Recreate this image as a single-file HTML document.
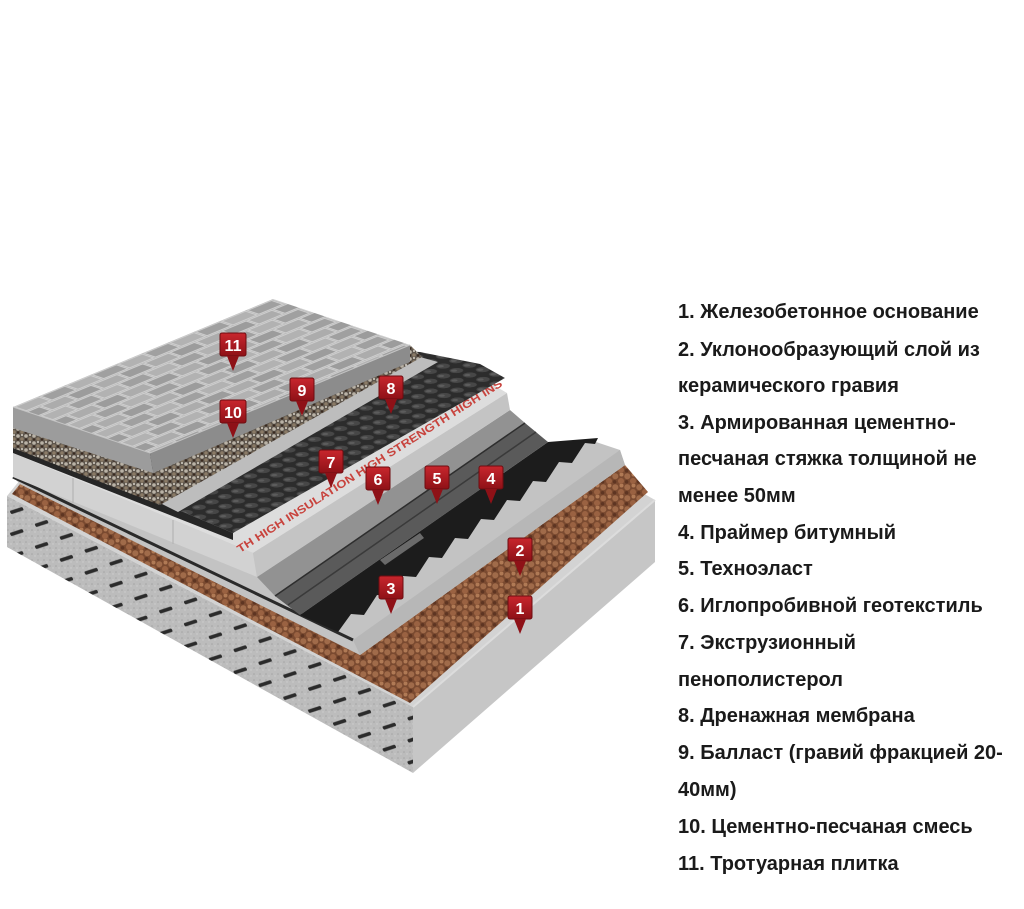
<!DOCTYPE html>
<html><head><meta charset="utf-8">
<style>
html,body{margin:0;padding:0;background:#fff;}
#wrap{position:relative;width:1024px;height:909px;overflow:hidden;background:#fff;}
svg{position:absolute;left:0;top:0;}
.t{position:absolute;left:678px;font-family:"Liberation Sans","DejaVu Sans",sans-serif;font-weight:bold;font-size:20px;color:#1a1a1a;white-space:nowrap;line-height:22px;}
</style></head><body><div id="wrap">
<svg width="1024" height="909" viewBox="0 0 1024 909">
<defs>
 <pattern id="rebar" width="28" height="22" patternUnits="userSpaceOnUse" patternTransform="matrix(0.887,0.461,0,1,7,496)">
  <line x1="5" y1="14" x2="17" y2="5" stroke="#2b2b2b" stroke-width="3" stroke-linecap="round"/>
 </pattern>
 <pattern id="conc" width="6" height="6" patternUnits="userSpaceOnUse">
  <rect width="6" height="6" fill="#bcbcbc"/><circle cx="2" cy="2" r="0.8" fill="#a5a5a5"/><circle cx="5" cy="4" r="0.7" fill="#cfcfcf"/>
 </pattern>
 <pattern id="grav" width="12" height="11" patternUnits="userSpaceOnUse">
  <rect width="12" height="11" fill="#7a4a30"/>
  <circle cx="3.3" cy="3.3" r="3" fill="#a06b4a"/><circle cx="9" cy="8" r="3" fill="#9a6242"/><circle cx="9.5" cy="1.5" r="2" fill="#b07a55"/><circle cx="2.6" cy="8.8" r="1.8" fill="#5e3522"/>
 </pattern>
 <pattern id="ball" width="8" height="7" patternUnits="userSpaceOnUse">
  <rect width="8" height="7" fill="#5d554c"/>
  <circle cx="2" cy="2" r="1.8" fill="#b9b2a6"/><circle cx="6" cy="5" r="1.8" fill="#8a7a66"/><circle cx="6" cy="1" r="1" fill="#d8d2c8"/><circle cx="2" cy="5.5" r="1.2" fill="#3a2a20"/>
 </pattern>
 <pattern id="dimp" width="14" height="14" patternUnits="userSpaceOnUse" patternTransform="matrix(0.923,-0.383,0.948,0.318,13,440)">
  <rect width="14" height="14" fill="#2c2c2c"/><circle cx="7" cy="7" r="5.2" fill="#474747"/><circle cx="5.8" cy="5.8" r="2.3" fill="#5c5c5c"/>
 </pattern>
 <pattern id="brick" width="56" height="28" patternUnits="userSpaceOnUse" patternTransform="matrix(0.923,-0.383,0.948,0.318,13,407)">
  <rect width="56" height="28" fill="#a9a9a9"/>
  <rect x="1" y="1" width="26" height="12" fill="#b2b2b2" stroke="#d0d0d0" stroke-width="1.5"/>
  <rect x="29" y="1" width="26" height="12" fill="#a0a0a0" stroke="#d0d0d0" stroke-width="1.5"/>
  <rect x="15" y="15" width="26" height="12" fill="#acacac" stroke="#d0d0d0" stroke-width="1.5"/>
  <rect x="-13" y="15" width="26" height="12" fill="#9c9c9c" stroke="#d0d0d0" stroke-width="1.5"/>
  <rect x="43" y="15" width="26" height="12" fill="#9c9c9c" stroke="#d0d0d0" stroke-width="1.5"/>
 </pattern>
 <linearGradient id="mk" x1="0" y1="0" x2="0" y2="1">
  <stop offset="0" stop-color="#c8262d"/><stop offset="1" stop-color="#8e1117"/>
 </linearGradient>
</defs>

<!-- slab -->
<polygon points="7,496 413,707 655,500 620,480 20,480" fill="#d3d3d3"/>
<polygon points="7,496 413,707 413,773 7,547" fill="url(#conc)"/>
<polygon points="7,496 413,707 413,773 7,547" fill="url(#rebar)"/>
<polygon points="413,707 655,500 655,562 413,773" fill="#c6c6c6"/>
<polyline points="413,707 655,500" fill="none" stroke="#dcdcdc" stroke-width="2"/>

<!-- gravel -->
<polygon points="20,484 360,655 625,465 648,492 410,703 12,494" fill="url(#grav)"/>

<!-- screed -->
<polygon points="13,460 300,560 590,440 620,450 625,465 360,655 20,484 13,477" fill="#c3c3c3"/>
<polygon points="353,640 620,450 625,465 360,655" fill="#b7b7b7"/>
<polyline points="13,477 353,640" fill="none" stroke="#2a2a2a" stroke-width="3"/>

<!-- primer black -->
<polygon points="300,615 548,442 598,438 595,444 585,443 572,463 559,462 546,482 533,481 520,501 507,500 494,520 481,519 468,539 455,538 442,558 429,557 416,577 403,576 390,596 377,595 364,615 351,614 338,632" fill="#1c1c1c"/>
<!-- technoelast -->
<polygon points="275,596 525,423 548,442 300,615" fill="#5a5a5a"/>
<polyline points="288,605 536,432" fill="none" stroke="#3a3a3a" stroke-width="1.5"/>
<polygon points="380,560 420,533 424,538 385,565" fill="#6a6a6a"/>
<!-- geotextile -->
<polygon points="257,577 510,410 525,423 275,596" fill="#929292"/>
<polyline points="275,596 525,423" fill="none" stroke="#2e2e2e" stroke-width="1.5"/>

<!-- XPS -->
<polygon points="13,430 485,380 507,393 253,553 13,453" fill="#dddddd"/>
<polygon points="13,453 253,553 257,577 13,477" fill="#d2d2d2"/>
<line x1="73" y1="478" x2="73" y2="503" stroke="#b5b5b5" stroke-width="1.2"/>
<line x1="173" y1="520" x2="173" y2="544" stroke="#b5b5b5" stroke-width="1.2"/>
<polygon points="253,553 507,393 510,410 257,577" fill="#c4c4c4"/>
<text x="0" y="0" transform="translate(240,553) rotate(-32.5)" font-family="Liberation Sans, sans-serif" font-weight="bold" font-size="11" fill="#c8433d" textLength="312" lengthAdjust="spacingAndGlyphs">TH    HIGH INSULATION HIGH STRENGTH    HIGH INS</text>

<!-- drainage -->
<polygon points="13,425 300,345 420,352 480,364 505,378 233,533 13,440" fill="url(#dimp)"/>
<polygon points="13,440 233,533 233,540 13,453" fill="#262626"/>

<!-- light strip -->
<polygon points="160,503 420,357 438,362 178,512" fill="#bdbdbd"/>

<!-- ballast -->
<polygon points="13,425 153,470 410,345 422,357 160,505 13,448" fill="url(#ball)"/>

<!-- paving -->
<polygon points="13,407 273,299 410,345 150,453" fill="url(#brick)"/>
<polygon points="13,407 150,453 153,473 13,428" fill="#9c9c9c"/>
<polygon points="150,453 410,345 410,362 153,473" fill="#8c8c8c"/>
<polyline points="13,407 150,453 410,345" fill="none" stroke="#c4c4c4" stroke-width="1"/>

<!-- markers -->
<g font-family="Liberation Sans, sans-serif" font-weight="bold" font-size="16" fill="#fff" text-anchor="middle">
 <g transform="translate(233,333)"><rect x="-13" y="0" width="26" height="23" rx="2" fill="url(#mk)" stroke="#6e0c10"/><polygon points="-6,23 6,23 0,38" fill="#8e1117"/><text x="0" y="18">11</text></g>
 <g transform="translate(233,400)"><rect x="-13" y="0" width="26" height="23" rx="2" fill="url(#mk)" stroke="#6e0c10"/><polygon points="-6,23 6,23 0,38" fill="#8e1117"/><text x="0" y="18">10</text></g>
 <g transform="translate(302,378)"><rect x="-12" y="0" width="24" height="23" rx="2" fill="url(#mk)" stroke="#6e0c10"/><polygon points="-6,23 6,23 0,38" fill="#8e1117"/><text x="0" y="18">9</text></g>
 <g transform="translate(391,376)"><rect x="-12" y="0" width="24" height="23" rx="2" fill="url(#mk)" stroke="#6e0c10"/><polygon points="-6,23 6,23 0,38" fill="#8e1117"/><text x="0" y="18">8</text></g>
 <g transform="translate(331,450)"><rect x="-12" y="0" width="24" height="23" rx="2" fill="url(#mk)" stroke="#6e0c10"/><polygon points="-6,23 6,23 0,38" fill="#8e1117"/><text x="0" y="18">7</text></g>
 <g transform="translate(378,467)"><rect x="-12" y="0" width="24" height="23" rx="2" fill="url(#mk)" stroke="#6e0c10"/><polygon points="-6,23 6,23 0,38" fill="#8e1117"/><text x="0" y="18">6</text></g>
 <g transform="translate(437,466)"><rect x="-12" y="0" width="24" height="23" rx="2" fill="url(#mk)" stroke="#6e0c10"/><polygon points="-6,23 6,23 0,38" fill="#8e1117"/><text x="0" y="18">5</text></g>
 <g transform="translate(491,466)"><rect x="-12" y="0" width="24" height="23" rx="2" fill="url(#mk)" stroke="#6e0c10"/><polygon points="-6,23 6,23 0,38" fill="#8e1117"/><text x="0" y="18">4</text></g>
 <g transform="translate(391,576)"><rect x="-12" y="0" width="24" height="23" rx="2" fill="url(#mk)" stroke="#6e0c10"/><polygon points="-6,23 6,23 0,38" fill="#8e1117"/><text x="0" y="18">3</text></g>
 <g transform="translate(520,538)"><rect x="-12" y="0" width="24" height="23" rx="2" fill="url(#mk)" stroke="#6e0c10"/><polygon points="-6,23 6,23 0,38" fill="#8e1117"/><text x="0" y="18">2</text></g>
 <g transform="translate(520,596)"><rect x="-12" y="0" width="24" height="23" rx="2" fill="url(#mk)" stroke="#6e0c10"/><polygon points="-6,23 6,23 0,38" fill="#8e1117"/><text x="0" y="18">1</text></g>
</g>
</svg>

<div class="t" style="top:301px">1. Железобетонное основание</div>
<div class="t" style="top:339px">2. Уклонообразующий слой из</div>
<div class="t" style="top:375px">керамического гравия</div>
<div class="t" style="top:412px">3. Армированная цементно-</div>
<div class="t" style="top:448px">песчаная стяжка толщиной не</div>
<div class="t" style="top:485px">менее 50мм</div>
<div class="t" style="top:522px">4. Праймер битумный</div>
<div class="t" style="top:558px">5. Техноэласт</div>
<div class="t" style="top:595px">6. Иглопробивной геотекстиль</div>
<div class="t" style="top:632px">7. Экструзионный</div>
<div class="t" style="top:669px">пенополистерол</div>
<div class="t" style="top:705px">8. Дренажная мембрана</div>
<div class="t" style="top:742px">9. Балласт (гравий фракцией 20-</div>
<div class="t" style="top:779px">40мм)</div>
<div class="t" style="top:816px">10. Цементно-песчаная смесь</div>
<div class="t" style="top:853px">11. Тротуарная плитка</div>
</div></body></html>
